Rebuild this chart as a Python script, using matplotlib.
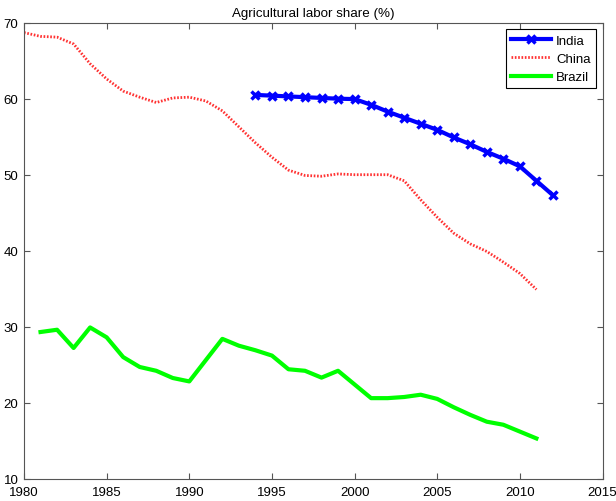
import matplotlib
matplotlib.use("Agg")
import matplotlib.pyplot as plt

plt.rcParams['font.family'] = ['Liberation Sans', 'DejaVu Sans']

india_years = list(range(1994, 2013))
india_vals = [60.5, 60.4, 60.3, 60.2, 60.1, 60.0, 59.95, 59.2, 58.3, 57.5, 56.7,
              55.9, 54.9, 54.0, 53.0, 52.1, 51.1, 49.2, 47.3]

china_years = list(range(1980, 2012))
china_vals = [68.7, 68.2, 68.1, 67.2, 64.6, 62.6, 61.0, 60.2, 59.5, 60.1, 60.2,
              59.7, 58.4, 56.3, 54.2, 52.3, 50.6, 49.9, 49.8, 50.1, 50.0, 50.0,
              50.0, 49.2, 46.7, 44.4, 42.3, 40.9, 39.9, 38.5, 37.0, 34.9]

brazil_years = list(range(1981, 2012))
brazil_vals = [29.3, 29.6, 27.2, 29.9, 28.6, 26.0, 24.7, 24.2, 23.25, 22.8,
               25.6, 28.4, 27.5, 26.9, 26.2, 24.4, 24.2, 23.3, 24.2, 22.4,
               20.6, 20.6, 20.75, 21.05, 20.5, 19.4, 18.4, 17.5, 17.1, 16.2, 15.3]

x_ticks = [1980, 1985, 1990, 1995, 2000, 2005, 2010, 2015]
y_ticks = [10, 20, 30, 40, 50, 60, 70]

W, H = 616, 502
fig = plt.figure(figsize=(W/100, H/100), dpi=100)
ax = fig.add_axes([24/W, 1 - 479.7/H, (602.5-24)/W, (479.7-23.7)/H])

ax.plot(india_years, india_vals, color=(0, 0, 1), lw=3, marker='x', ms=6, mew=2.5, label='India')
ax.plot(china_years, china_vals, color=(1, 0, 0), lw=2, ls=(0, (0.6, 0.6)), alpha=0.8, label='China')
ax.plot(brazil_years, brazil_vals, color=(0, 1, 0), lw=3, label='Brazil')

ax.set_xlim(1980, 2015)
ax.set_ylim(10, 70)
ax.set_xticks(x_ticks)
ax.set_yticks(y_ticks)
ax.tick_params(direction='in', top=True, right=True, length=4, labelsize=9.5, color='#555555')
ax.tick_params(axis='x', pad=5)
ax.tick_params(axis='y', pad=4)
for s in ax.spines.values():
    s.set_color('#555555')
ax.set_title('Agricultural labor share (%)', fontsize=9.6, pad=5)

leg = ax.legend(loc='upper right', fontsize=9.5, fancybox=False, framealpha=1,
                edgecolor='black', handlelength=3.0, handletextpad=0.4,
                labelspacing=0.45, borderaxespad=0.5)
leg.get_frame().set_linewidth(0.8)

fig.savefig('out.png', dpi=100)
